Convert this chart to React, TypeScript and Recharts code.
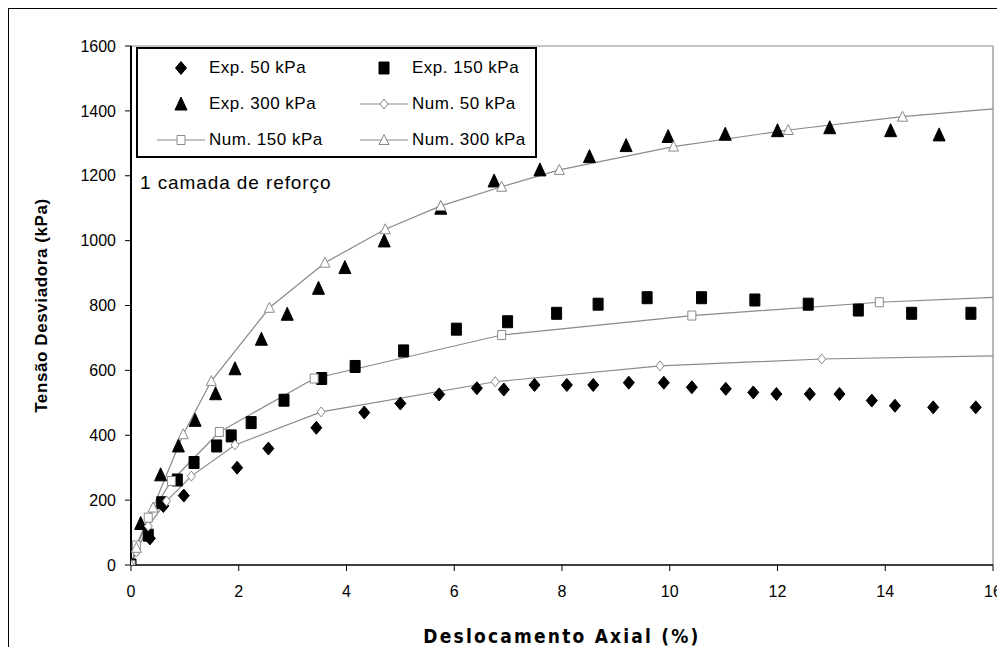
import React from "react";
import {
  ComposedChart,
  Line,
  Scatter,
  XAxis,
  YAxis,
  ReferenceLine,
  Legend,
} from "recharts";

// Exp. = ensaios (pontos), Num. = modelo numérico (linhas)
const exp50 = [
  { x: 0, y: 0 }, { x: 0.35, y: 82 }, { x: 0.6, y: 182 }, { x: 0.98, y: 214 },
  { x: 1.97, y: 300 }, { x: 2.55, y: 359 }, { x: 3.44, y: 423 }, { x: 4.33, y: 470 },
  { x: 5.0, y: 498 }, { x: 5.72, y: 526 }, { x: 6.42, y: 545 }, { x: 6.92, y: 541 },
  { x: 7.49, y: 555 }, { x: 8.09, y: 555 }, { x: 8.58, y: 555 }, { x: 9.24, y: 562 },
  { x: 9.89, y: 562 }, { x: 10.41, y: 548 }, { x: 11.04, y: 543 }, { x: 11.55, y: 532 },
  { x: 11.98, y: 527 }, { x: 12.6, y: 527 }, { x: 13.15, y: 527 }, { x: 13.75, y: 507 },
  { x: 14.18, y: 491 }, { x: 14.89, y: 486 }, { x: 15.68, y: 486 },
];

const exp150 = [
  { x: 0, y: 0 }, { x: 0.32, y: 92 }, { x: 0.57, y: 192 }, { x: 0.86, y: 262 },
  { x: 1.17, y: 316 }, { x: 1.59, y: 367 }, { x: 1.86, y: 398 }, { x: 2.23, y: 439 },
  { x: 2.84, y: 508 }, { x: 3.54, y: 575 }, { x: 4.16, y: 612 }, { x: 5.06, y: 660 },
  { x: 6.04, y: 727 }, { x: 6.99, y: 750 }, { x: 7.9, y: 776 }, { x: 8.67, y: 804 },
  { x: 9.58, y: 824 }, { x: 10.59, y: 824 }, { x: 11.58, y: 817 }, { x: 12.57, y: 804 },
  { x: 13.5, y: 786 }, { x: 14.49, y: 776 }, { x: 15.59, y: 776 },
];

const exp300 = [
  { x: 0.18, y: 128 }, { x: 0.55, y: 278 }, { x: 0.88, y: 367 }, { x: 1.19, y: 446 },
  { x: 1.57, y: 528 }, { x: 1.93, y: 605 }, { x: 2.42, y: 696 }, { x: 2.9, y: 773 },
  { x: 3.48, y: 853 }, { x: 3.97, y: 917 }, { x: 4.7, y: 999 }, { x: 5.75, y: 1100 },
  { x: 6.74, y: 1184 }, { x: 7.59, y: 1218 }, { x: 8.51, y: 1259 }, { x: 9.19, y: 1293 },
  { x: 9.97, y: 1321 }, { x: 11.03, y: 1328 }, { x: 12.0, y: 1339 }, { x: 12.97, y: 1348 },
  { x: 14.1, y: 1339 }, { x: 15.0, y: 1326 },
];

const num50 = [
  { x: 0, y: 0 }, { x: 0.1, y: 40 }, { x: 0.32, y: 120 }, { x: 0.66, y: 197 },
  { x: 1.12, y: 274 }, { x: 1.93, y: 370 }, { x: 3.53, y: 472 }, { x: 6.76, y: 565 },
  { x: 9.82, y: 614 }, { x: 12.82, y: 635 }, { x: 16, y: 645 },
];

const num150 = [
  { x: 0, y: 0 }, { x: 0.1, y: 60 }, { x: 0.32, y: 146 }, { x: 0.75, y: 259 },
  { x: 1.64, y: 410 }, { x: 3.4, y: 575 }, { x: 6.88, y: 709 }, { x: 10.41, y: 769 },
  { x: 13.89, y: 810 }, { x: 16, y: 825 },
];

const num300 = [
  { x: 0, y: 0 }, { x: 0.1, y: 53 }, { x: 0.41, y: 177 }, { x: 0.97, y: 403 },
  { x: 1.49, y: 567 }, { x: 2.57, y: 793 }, { x: 3.6, y: 932 }, { x: 4.72, y: 1035 },
  { x: 5.75, y: 1107 }, { x: 6.88, y: 1166 }, { x: 7.95, y: 1218 }, { x: 10.07, y: 1290 },
  { x: 12.2, y: 1341 }, { x: 14.32, y: 1382 }, { x: 16, y: 1406 },
];

const xTicks = [0, 2, 4, 6, 8, 10, 12, 14, 16];
const yTicks = [0, 200, 400, 600, 800, 1000, 1200, 1400, 1600];

const FONT = '"Liberation Sans", Arial, sans-serif';
const CONDENSED = '"DejaVu Sans Condensed", "DejaVu Sans", "Liberation Sans", sans-serif';
const GRAY = "#8a8a8a";

type Kind = "diamond" | "square" | "triangle";

function markerPath(kind: Kind, cx: number, cy: number, open: boolean) {
  if (kind === "diamond") {
    const w = open ? 4 : 5.5, h = open ? 5 : 6.5;
    return `M${cx},${cy - h}L${cx + w},${cy}L${cx},${cy + h}L${cx - w},${cy}Z`;
  }
  if (kind === "square") {
    const w = open ? 4 : 5, h = open ? 4.5 : 6;
    return `M${cx - w},${cy - h}H${cx + w}V${cy + h}H${cx - w}Z`;
  }
  const w = open ? 5 : 6, h = open ? 5.5 : 7;
  return `M${cx},${cy - h}L${cx + w},${cy + h - 1}L${cx - w},${cy + h - 1}Z`;
}

function Marker({ kind, cx, cy, open }: { kind: Kind; cx: number; cy: number; open: boolean }) {
  return (
    <path
      d={markerPath(kind, cx, cy, open)}
      fill={open ? "#fff" : "#000"}
      stroke={open ? GRAY : "#000"}
      strokeWidth={1}
    />
  );
}

const filled = (kind: Kind) => (p: any) => <Marker kind={kind} cx={p.cx} cy={p.cy} open={false} />;

const openDot = (kind: Kind, len: number) => (p: any) => {
  if (p.index === len - 1) return <g key={p.index} />;
  return (
    <g key={p.index}>
      <Marker kind={kind} cx={p.cx} cy={p.cy} open />
    </g>
  );
};

function LegendSample({ kind, open }: { kind: Kind; open: boolean }) {
  return (
    <svg width={48} height={20} style={{ position: "absolute", left: -24, top: -10 }}>
      {open && <line x1={0} y1={10} x2={48} y2={10} stroke={GRAY} strokeWidth={1.2} />}
      <Marker kind={kind} cx={24} cy={10} open={open} />
    </svg>
  );
}

const legendItems: { label: string; kind: Kind; open: boolean; col: number; row: number }[] = [
  { label: "Exp. 50 kPa", kind: "diamond", open: false, col: 0, row: 0 },
  { label: "Exp. 150 kPa", kind: "square", open: false, col: 1, row: 0 },
  { label: "Exp. 300 kPa", kind: "triangle", open: false, col: 0, row: 1 },
  { label: "Num. 50 kPa", kind: "diamond", open: true, col: 1, row: 1 },
  { label: "Num. 150 kPa", kind: "square", open: true, col: 0, row: 2 },
  { label: "Num. 300 kPa", kind: "triangle", open: true, col: 1, row: 2 },
];

function LegendBox() {
  return (
    <div
      style={{
        position: "relative",
        width: 401,
        height: 111,
        boxSizing: "border-box",
        border: "2px solid #000",
        background: "#fff",
        fontFamily: FONT,
        fontSize: 17,
        color: "#000",
      }}
    >
      {legendItems.map((it) => {
        const mx = it.col === 0 ? 43 : 246;
        const ty = [19, 55, 91][it.row];
        return (
          <React.Fragment key={it.label}>
            <div style={{ position: "absolute", left: mx, top: ty }}>
              <LegendSample kind={it.kind} open={it.open} />
            </div>
            <div
              style={{
                position: "absolute",
                left: mx + 28,
                top: ty - 10,
                lineHeight: "20px",
                whiteSpace: "nowrap",
                letterSpacing: 0.5,
              }}
            >
              {it.label}
            </div>
          </React.Fragment>
        );
      })}
    </div>
  );
}

export default function App() {
  return (
    <div
      style={{
        position: "relative",
        width: 996,
        height: 638,
        borderLeft: "1px solid #000",
        borderTop: "1px solid #000",
        background: "#fff",
      }}
    >
      <ComposedChart
        width={996}
        height={638}
        margin={{ top: 37, right: 12, bottom: 2, left: 22 }}
        style={{ overflow: "visible" }}
      >
        <XAxis
          type="number"
          dataKey="x"
          domain={[0, 16]}
          ticks={xTicks}
          allowDataOverflow
          height={80}
          stroke="#000"
          axisLine={{ stroke: "#000", strokeWidth: 1.5 }}
          tickLine={{ stroke: "#000" }}
          tickSize={6}
          tickMargin={15}
          interval={0}
          tick={{ fill: "#000", fontSize: 16, fontFamily: FONT }}
          label={{
            value: "Deslocamento Axial (%)",
            position: "insideBottom",
            offset: 2,
            style: {
              fill: "#000",
              fontSize: 19,
              fontWeight: "bold",
              fontFamily: CONDENSED,
              letterSpacing: 2.2,
            },
          }}
        />
        <YAxis
          type="number"
          dataKey="y"
          domain={[0, 1600]}
          ticks={yTicks}
          allowDataOverflow
          width={100}
          interval={0}
          axisLine={{ stroke: "#000", strokeWidth: 2 }}
          tickLine={{ stroke: "#000" }}
          tickSize={6}
          tickMargin={9}
          tick={{ fill: "#000", fontSize: 16, fontFamily: FONT }}
          label={{
            value: "Tensão Desviadora (kPa)",
            angle: -90,
            position: "insideLeft",
            offset: 10,
            style: {
              fill: "#000",
              fontSize: 17,
              fontWeight: "bold",
              fontFamily: FONT,
              textAnchor: "middle",
              letterSpacing: 0.6,
            },
          }}
        />
        <ReferenceLine y={1600} stroke={GRAY} strokeWidth={1.2} />
        <ReferenceLine x={16} stroke={GRAY} strokeWidth={1.2} />

        <Line
          data={num50}
          dataKey="y"
          stroke={GRAY}
          strokeWidth={1.2}
          dot={openDot("diamond", num50.length)}
          isAnimationActive={false}
        />
        <Line
          data={num150}
          dataKey="y"
          stroke={GRAY}
          strokeWidth={1.2}
          dot={openDot("square", num150.length)}
          isAnimationActive={false}
        />
        <Line
          data={num300}
          dataKey="y"
          stroke={GRAY}
          strokeWidth={1.2}
          dot={openDot("triangle", num300.length)}
          isAnimationActive={false}
        />

        <Scatter data={exp50} dataKey="y" shape={filled("diamond")} isAnimationActive={false} />
        <Scatter data={exp150} dataKey="y" shape={filled("square")} isAnimationActive={false} />
        <Scatter data={exp300} dataKey="y" shape={filled("triangle")} isAnimationActive={false} />

        <Legend
          layout="horizontal"
          verticalAlign="middle"
          align="center"
          content={() => <LegendBox />}
          wrapperStyle={{ position: "absolute", left: 127, top: 38, width: 401, height: 111 }}
        />
      </ComposedChart>
      <div
        style={{
          position: "absolute",
          left: 131,
          top: 164,
          lineHeight: "20px",
          fontFamily: FONT,
          fontSize: 19,
          letterSpacing: 0.9,
          color: "#000",
          whiteSpace: "nowrap",
        }}
      >
        1 camada de reforço
      </div>
    </div>
  );
}
